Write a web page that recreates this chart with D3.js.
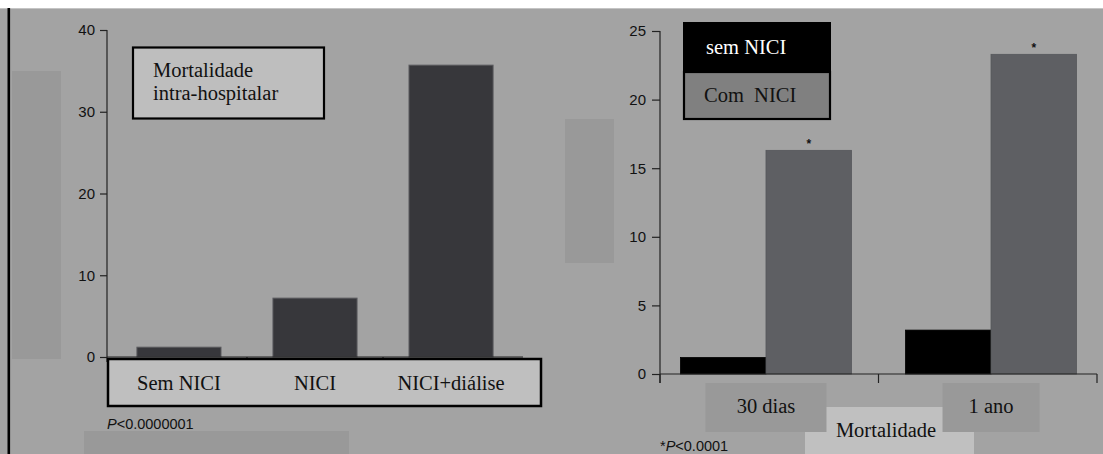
<!DOCTYPE html>
<html><head><meta charset="utf-8">
<script src="https://cdn.jsdelivr.net/npm/d3@7"></script>
<style>
html,body{margin:0;padding:0;background:#fff;}
svg{display:block;}
.serif{font-family:"Liberation Serif","Times New Roman",serif;}
.sans{font-family:"Liberation Sans",Arial,sans-serif;}
</style></head>
<body>
<script>
// ---- data ----
const leftCategories = ["Sem NICI", "NICI", "NICI+diálise"];
const leftValues = [1.2, 7.2, 35.7];
const leftTicks = [0, 10, 20, 30, 40];
const leftTitle = ["Mortalidade", "intra-hospitalar"];
const leftNote = "<0.0000001";

const rightCategories = ["30 dias", "1 ano"];
const seriesNames = ["sem NICI", "Com  NICI"];
const semNICI = [1.2, 3.2];
const comNICI = [16.3, 23.3];
const rightTicks = [0, 5, 10, 15, 20, 25];
const rightAxisTitle = "Mortalidade";
const rightNote = "<0.0001";

const W = 1103, H = 454;
const SERIF = 20.5, TICK = 15, NOTE = 14.5;
const svg = d3.select("body").append("svg").attr("width", W).attr("height", H);

// background
svg.append("rect").attr("x",0).attr("y",0).attr("width",W).attr("height",H).attr("fill","#fff");
svg.append("rect").attr("x",0).attr("y",8).attr("width",W).attr("height",H-8).attr("fill","#a3a3a3");
svg.append("line").attr("x1",0).attr("x2",W).attr("y1",8.5).attr("y2",8.5).attr("stroke","#c4c4c4").attr("stroke-width",1);
svg.append("rect").attr("x",7.5).attr("y",8).attr("width",2.6).attr("height",H-8).attr("fill","#000");

// decorative rectangles
const deco = svg.append("g").attr("fill","#999999");
deco.append("rect").attr("x",12).attr("y",71).attr("width",49).attr("height",288);
deco.append("rect").attr("x",84).attr("y",431).attr("width",265).attr("height",23);
deco.append("rect").attr("x",565).attr("y",119).attr("width",49).attr("height",144);

// ================= LEFT PANEL =================
const yL = d3.scaleLinear().domain([0,40]).range([357,30]);
const xL = d3.scaleBand().domain(leftCategories).range([107,523]).paddingInner(0.382).paddingOuter(0.22);

const gL = svg.append("g");
gL.selectAll("rect.bar").data(leftValues).join("rect")
  .attr("class","bar")
  .attr("x",(d,i)=>xL(leftCategories[i]))
  .attr("width",xL.bandwidth())
  .attr("y",d=>yL(d))
  .attr("height",d=>yL(0)-yL(d))
  .attr("fill","#37373b").attr("stroke","#5a5a5e").attr("stroke-width",1);

const axL = gL.append("g").attr("transform","translate(107,0)")
  .call(d3.axisLeft(yL).tickValues(leftTicks).tickSize(7).tickSizeOuter(0).tickPadding(5));
axL.select(".domain").attr("stroke","#222").attr("stroke-width",1.2).attr("d","M0,30V362");
axL.selectAll(".tick line").attr("stroke","#222").attr("stroke-width",1.2);
axL.selectAll(".tick text").attr("font-size",TICK).attr("fill","#111")
   .attr("font-family","Liberation Sans, Arial, sans-serif");

const bL = leftCategories.slice(1).map(c => xL(c) - xL.step()*xL.paddingInner()/2);
gL.append("line").attr("x1",107).attr("x2",523).attr("y1",yL(0)).attr("y2",yL(0)).attr("stroke","#222").attr("stroke-width",1.2);
gL.selectAll("line.xt").data(bL).join("line").attr("class","xt")
  .attr("x1",d=>d).attr("x2",d=>d).attr("y1",yL(0)).attr("y2",yL(0)+5).attr("stroke","#222").attr("stroke-width",1.2);

gL.append("rect").attr("x",108).attr("y",359).attr("width",433).attr("height",47)
  .attr("fill","#bfbfbf").attr("stroke","#000").attr("stroke-width",2.5);
gL.selectAll("text.cat").data(leftCategories).join("text").attr("class","cat serif")
  .attr("x",d=>xL(d)+xL.bandwidth()/2).attr("y",390).attr("text-anchor","middle")
  .attr("font-size",SERIF).attr("fill","#111").text(d=>d);

gL.append("rect").attr("x",133).attr("y",47.5).attr("width",191).attr("height",71)
  .attr("fill","#bebebe").attr("stroke","#000").attr("stroke-width",2.2);
gL.selectAll("text.tt").data(leftTitle).join("text").attr("class","tt serif")
  .attr("x",153).attr("y",(d,i)=>77+i*23).attr("font-size",SERIF).attr("fill","#111").text(d=>d);

const pL = gL.append("text").attr("class","sans").attr("x",107).attr("y",429).attr("font-size",NOTE).attr("fill","#111");
pL.append("tspan").attr("font-style","italic").text("P");
pL.append("tspan").text(leftNote);

// ================= RIGHT PANEL =================
const yR = d3.scaleLinear().domain([0,25]).range([374,31]);
const xR = d3.scaleBand().domain(rightCategories).range([660,1097]).paddingInner(0.24).paddingOuter(0.091);
const xS = d3.scaleBand().domain([0,1]).range([0,xR.bandwidth()]);

const gR = svg.append("g");
const rData = rightCategories.map((c,i)=>({c, vals:[semNICI[i], comNICI[i]]}));
const grp = gR.selectAll("g.grp").data(rData).join("g").attr("class","grp")
  .attr("transform",d=>`translate(${xR(d.c)},0)`);
const fills = ["#000000","#5e5f63"];
grp.selectAll("rect").data(d=>d.vals).join("rect")
  .attr("x",(d,i)=>xS(i)).attr("width",xS.bandwidth())
  .attr("y",d=>yR(d)).attr("height",d=>yR(0)-yR(d))
  .attr("fill",(d,i)=>fills[i]).attr("stroke",(d,i)=>i===0?"#000":"#56575b").attr("stroke-width",0.8);
grp.append("text").attr("class","sans")
  .attr("x",d=>xS(1)+xS.bandwidth()/2).attr("y",d=>yR(d.vals[1])-2)
  .attr("text-anchor","middle").attr("font-size",12).attr("font-weight","bold").attr("fill","#111").text("*");

const axR = gR.append("g").attr("transform","translate(660,0)")
  .call(d3.axisLeft(yR).tickValues(rightTicks).tickSize(8).tickSizeOuter(0).tickPadding(6));
axR.select(".domain").attr("stroke","#222").attr("stroke-width",1.2).attr("d","M0,31V383");
axR.selectAll(".tick line").attr("stroke","#222").attr("stroke-width",1.2);
axR.selectAll(".tick text").attr("font-size",TICK).attr("fill","#111")
   .attr("font-family","Liberation Sans, Arial, sans-serif");

const bR = [660, ...rightCategories.slice(1).map(c => xR(c) - xR.step()*xR.paddingInner()/2), 1097];
gR.append("line").attr("x1",660).attr("x2",1097).attr("y1",yR(0)).attr("y2",yR(0)).attr("stroke","#222").attr("stroke-width",1.2);
gR.selectAll("line.xt").data(bR).join("line").attr("class","xt")
  .attr("x1",d=>d).attr("x2",d=>d).attr("y1",yR(0)).attr("y2",yR(0)+9).attr("stroke","#222").attr("stroke-width",1.2);

gR.append("rect").attr("x",805).attr("y",407).attr("width",169).attr("height",47).attr("fill","#c0c0c0");
gR.append("text").attr("class","serif").attr("x",886).attr("y",437).attr("text-anchor","middle")
  .attr("font-size",SERIF).attr("fill","#111").text(rightAxisTitle);

const catBoxW = [121, 97];
gR.selectAll("rect.cb").data(rightCategories).join("rect").attr("class","cb")
  .attr("x",(d,i)=>xR(d)+xR.bandwidth()/2 - catBoxW[i]/2).attr("y",383)
  .attr("width",(d,i)=>catBoxW[i]).attr("height",49).attr("fill","#999999");
gR.selectAll("text.cat").data(rightCategories).join("text").attr("class","cat serif")
  .attr("x",d=>xR(d)+xR.bandwidth()/2).attr("y",413).attr("text-anchor","middle")
  .attr("font-size",SERIF).attr("fill","#111").text(d=>d);

const leg = gR.append("g");
leg.append("rect").attr("x",684).attr("y",72).attr("width",146).attr("height",47)
  .attr("fill","#808080").attr("stroke","#000").attr("stroke-width",2.2);
leg.append("rect").attr("x",683).attr("y",22).attr("width",148).attr("height",50).attr("fill","#000");
leg.append("text").attr("class","serif").attr("x",706).attr("y",54).attr("font-size",SERIF).attr("fill","#fff").text(seriesNames[0]);
leg.append("text").attr("class","serif").attr("x",704).attr("y",102).attr("font-size",SERIF).attr("fill","#111")
   .style("white-space","pre").text(seriesNames[1]);

const pR = gR.append("text").attr("class","sans").attr("x",660).attr("y",451).attr("font-size",NOTE).attr("fill","#111");
pR.append("tspan").text("*");
pR.append("tspan").attr("font-style","italic").text("P");
pR.append("tspan").text(rightNote);
</script>
</body></html>
